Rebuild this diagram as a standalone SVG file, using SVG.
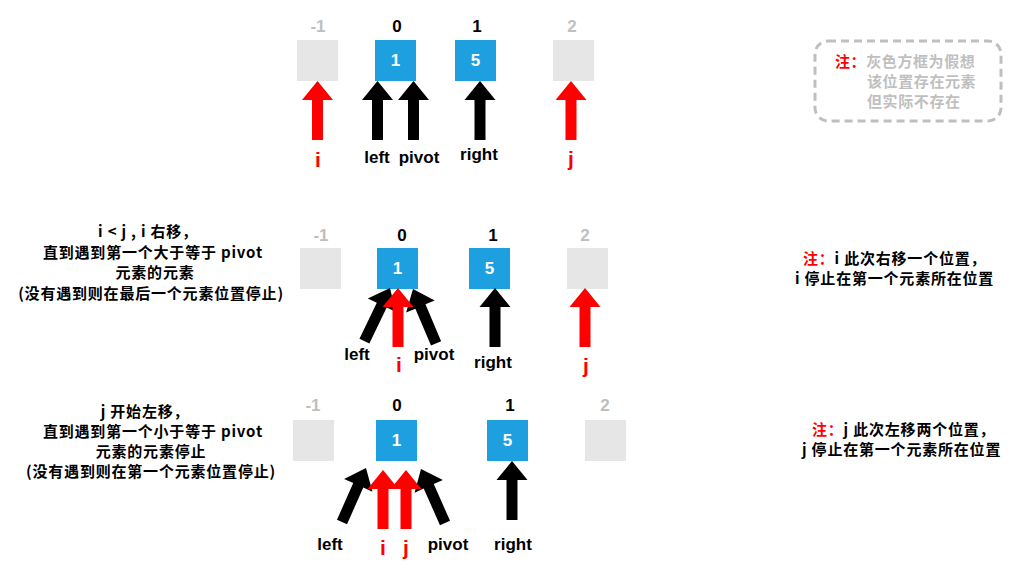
<svg xmlns="http://www.w3.org/2000/svg" xmlns:xlink="http://www.w3.org/1999/xlink" width="1016" height="576" viewBox="0 0 1016 576">
<style>
.gbox{fill:#e6e6e6}
.bbox{fill:#1ea0e0}
.idx{font-family:"Liberation Sans",Arial,sans-serif;font-weight:bold;font-size:17px;text-anchor:middle}
.gi{fill:#bfbfbf}
.bi{fill:#000}
.val{font-family:"Liberation Sans",Arial,sans-serif;font-weight:bold;font-size:17px;fill:#fff;text-anchor:middle}
.lbl{font-family:"Liberation Sans",Arial,sans-serif;font-weight:bold;font-size:17px;fill:#000;text-anchor:middle}
.rl{font-family:"Liberation Sans",Arial,sans-serif;font-weight:bold;font-size:21px;fill:#ff0000;text-anchor:middle}
.red{fill:#ff0000}
.blk{fill:#000}
.desc{font-family:"Noto Sans CJK SC",sans-serif;font-weight:bold;font-size:15px;letter-spacing:0.8px;fill:#000;text-anchor:middle}
.note{font-family:"Noto Sans CJK SC",sans-serif;font-weight:bold;font-size:15px;letter-spacing:0.8px;fill:#000}
.gnote{font-family:"Noto Sans CJK SC",sans-serif;font-weight:bold;font-size:15px;letter-spacing:0.6px;fill:#bfbfbf}
.rn{fill:#ff0000}
</style>
<defs>
<path id="arr" d="M0,0 L15.5,19 L5.5,19 L5.5,59 L-5.5,59 L-5.5,19 L-15.5,19 Z"/>
</defs>

<g id="row1">
  <g id="r1-boxes">
    <rect class="gbox" x="297" y="40" width="41" height="41"/>
    <rect class="bbox" x="375" y="40" width="41" height="41"/>
    <rect class="bbox" x="455" y="40" width="41" height="41"/>
    <rect class="gbox" x="553" y="40" width="41" height="41"/>
    <text class="val" x="395.5" y="66">1</text>
    <text class="val" x="475.5" y="66">5</text>
  </g>
  <g id="r1-index">
    <text class="idx gi" x="318" y="32">-1</text>
    <text class="idx bi" x="397" y="32">0</text>
    <text class="idx bi" x="477" y="32">1</text>
    <text class="idx gi" x="572" y="32">2</text>
  </g>
  <g id="r1-arrows">
    <use href="#arr" class="blk" transform="translate(377.5,81)"/>
    <use href="#arr" class="blk" transform="translate(413.5,81)"/>
    <use href="#arr" class="blk" transform="translate(480,81)"/>
    <use href="#arr" class="red" transform="translate(317.5,81)"/>
    <use href="#arr" class="red" transform="translate(571,81)"/>
  </g>
  <g id="r1-labels">
    <text class="rl" x="318" y="167">i</text>
    <text class="lbl" x="377" y="163">left</text>
    <text class="lbl" x="419" y="163">pivot</text>
    <text class="lbl" x="479" y="160">right</text>
    <text class="rl" x="571" y="166">j</text>
  </g>
  <g id="note1">
    <rect x="815" y="41" width="186" height="80" rx="13" ry="13" fill="none" stroke="#bfbfbf" stroke-width="3" stroke-dasharray="8,5"/>
    <text class="gnote" x="835" y="67"><tspan class="rn">注：</tspan>灰色方框为假想</text>
    <text class="gnote" x="867" y="87">该位置存在元素</text>
    <text class="gnote" x="867" y="107">但实际不存在</text>
  </g>
</g>

<g id="row2">
  <g id="r2-desc">
    <text class="desc" x="148" y="237">i &lt; j , i 右移，</text>
    <text class="desc" x="153" y="257.5">直到遇到第一个大于等于 pivot</text>
    <text class="desc" x="155" y="278">元素的元素</text>
    <text class="desc" x="151" y="298.5">(没有遇到则在最后一个元素位置停止)</text>
  </g>
  <g id="r2-boxes">
    <rect class="gbox" x="300" y="248" width="41" height="41"/>
    <rect class="bbox" x="377" y="248" width="41" height="41"/>
    <rect class="bbox" x="469" y="248" width="41" height="41"/>
    <rect class="gbox" x="567" y="248" width="41" height="41"/>
    <text class="val" x="397.5" y="274">1</text>
    <text class="val" x="489.5" y="274">5</text>
  </g>
  <g id="r2-index">
    <text class="idx gi" x="321" y="241">-1</text>
    <text class="idx bi" x="402" y="241">0</text>
    <text class="idx bi" x="493" y="241">1</text>
    <text class="idx gi" x="585" y="241">2</text>
  </g>
  <g id="r2-arrows">
    <use href="#arr" class="blk" transform="translate(390,288) rotate(25.7)"/>
    <use href="#arr" class="blk" transform="translate(413,289) rotate(-23)"/>
    <use href="#arr" class="blk" transform="translate(495,288)"/>
    <use href="#arr" class="red" transform="translate(398,288)"/>
    <use href="#arr" class="red" transform="translate(585,288)"/>
  </g>
  <g id="r2-labels">
    <text class="lbl" x="357" y="360">left</text>
    <text class="rl" x="399" y="372">i</text>
    <text class="lbl" x="434" y="360">pivot</text>
    <text class="lbl" x="493" y="368">right</text>
    <text class="rl" x="586" y="373">j</text>
  </g>
  <g id="note2">
    <text class="note" x="803" y="264"><tspan class="rn">注：</tspan>i 此次右移一个位置，</text>
    <text class="note" x="795" y="284">i 停止在第一个元素所在位置</text>
  </g>
</g>

<g id="row3">
  <g id="r3-desc">
    <text class="desc" x="145" y="417">j 开始左移，</text>
    <text class="desc" x="153" y="437">直到遇到第一个小于等于 pivot</text>
    <text class="desc" x="151" y="457">元素的元素停止</text>
    <text class="desc" x="151" y="477">(没有遇到则在第一个元素位置停止)</text>
  </g>
  <g id="r3-boxes">
    <rect class="gbox" x="293" y="420" width="41" height="41"/>
    <rect class="bbox" x="376" y="420" width="41" height="41"/>
    <rect class="bbox" x="487" y="420" width="41" height="41"/>
    <rect class="gbox" x="585" y="420" width="41" height="41"/>
    <text class="val" x="396.5" y="446">1</text>
    <text class="val" x="507.5" y="446">5</text>
  </g>
  <g id="r3-index">
    <text class="idx gi" x="313" y="411">-1</text>
    <text class="idx bi" x="397" y="411">0</text>
    <text class="idx bi" x="510" y="411">1</text>
    <text class="idx gi" x="605" y="411">2</text>
  </g>
  <g id="r3-arrows">
    <use href="#arr" class="blk" transform="translate(366,468) rotate(24)"/>
    <use href="#arr" class="blk" transform="translate(421,469) rotate(-24)"/>
    <use href="#arr" class="blk" transform="translate(512,461)"/>
    <use href="#arr" class="red" transform="translate(383,470)"/>
    <use href="#arr" class="red" transform="translate(406,470)"/>
  </g>
  <g id="r3-labels">
    <text class="lbl" x="330" y="550">left</text>
    <text class="rl" x="383" y="555">i</text>
    <text class="rl" x="406" y="555">j</text>
    <text class="lbl" x="448" y="550">pivot</text>
    <text class="lbl" x="513" y="550">right</text>
  </g>
  <g id="note3">
    <text class="note" x="812" y="435"><tspan class="rn">注：</tspan>j 此次左移两个位置，</text>
    <text class="note" x="802" y="455">j 停止在第一个元素所在位置</text>
  </g>
</g>
</svg>
